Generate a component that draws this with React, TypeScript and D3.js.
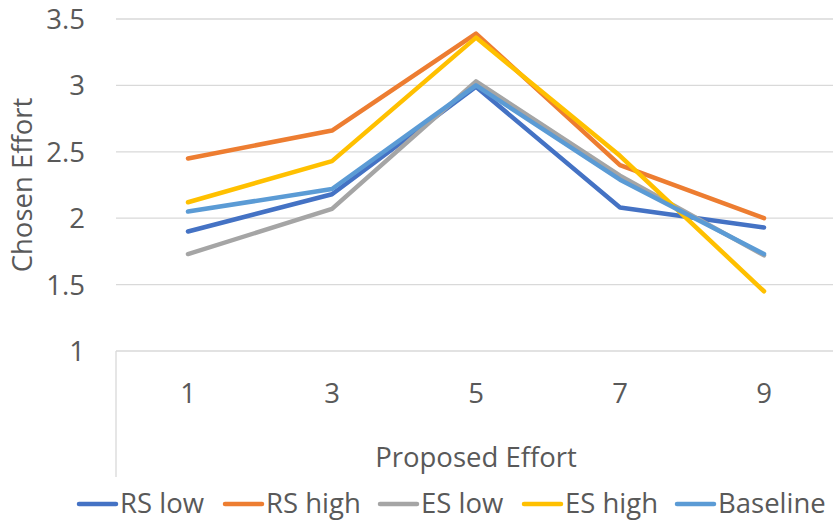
import React from "react";
import * as d3 from "d3";

const categories = ["1", "3", "5", "7", "9"];
const seriesNames = ["RS low", "RS high", "ES low", "ES high", "Baseline"];
const rsLow = [1.9, 2.18, 2.99, 2.08, 1.93];
const rsHigh = [2.45, 2.66, 3.39, 2.4, 2.0];
const esLow = [1.73, 2.07, 3.03, 2.32, 1.72];
const esHigh = [2.12, 2.43, 3.36, 2.47, 1.45];
const baseline = [2.05, 2.22, 3.0, 2.29, 1.73];
const yTicks = [1, 1.5, 2, 2.5, 3, 3.5];
const colors = ["#4472C4", "#ED7D31", "#A5A5A5", "#FFC000", "#5B9BD5"];

const W = 833;
const H = 523;
const FONT = "'Open Sans', Lato, sans-serif";
const TEXT = "#595959";
const FS = 27.5;

export default function App() {
  const series = [rsLow, rsHigh, esLow, esHigh, baseline];
  const x = d3.scaleBand<string>().domain(categories).range([116, 836]);
  const y = d3.scaleLinear().domain([1, 3.5]).range([351, 19]);
  const line = d3
    .line<number>()
    .x((_, i) => (x(categories[i]) as number) + x.bandwidth() / 2)
    .y((d) => y(d));

  const legendX = [79, 225, 380, 524, 677];

  return (
    <svg
      width={W}
      height={H}
      style={{ position: "absolute", left: 0, top: 0, background: "#fff" }}
      fontFamily={FONT}
    >
      {yTicks.slice(1).map((t) => (
        <line key={t} x1={116} x2={W} y1={y(t)} y2={y(t)} stroke="#d9d9d9" strokeWidth={1.3} />
      ))}
      <line x1={116} x2={W} y1={y(1)} y2={y(1)} stroke="#d9d9d9" strokeWidth={1.3} />
      <line x1={116} x2={116} y1={y(1)} y2={477} stroke="#d9d9d9" strokeWidth={1.3} />
      {yTicks.map((t) => (
        <text key={t} x={85} y={y(t) + 10} textAnchor="end" fontSize={FS} fill={TEXT}>
          {String(t)}
        </text>
      ))}
      {categories.map((c) => (
        <text
          key={c}
          x={(x(c) as number) + x.bandwidth() / 2}
          y={403}
          textAnchor="middle"
          fontSize={FS}
          fill={TEXT}
        >
          {c}
        </text>
      ))}
      <text
        transform={`translate(32,${y(2.25)}) rotate(-90)`}
        textAnchor="middle"
        fontSize={FS}
        fill={TEXT}
      >
        Chosen Effort
      </text>
      <text x={476} y={467} textAnchor="middle" fontSize={FS} fill={TEXT}>
        Proposed Effort
      </text>
      {series.map((s, i) => (
        <path
          key={seriesNames[i]}
          d={line(s) || ""}
          fill="none"
          stroke={colors[i]}
          strokeWidth={4.5}
          strokeLinecap="round"
          strokeLinejoin="round"
        />
      ))}
      {seriesNames.map((n, i) => (
        <g key={n}>
          <line
            x1={legendX[i]}
            x2={legendX[i] + 37}
            y1={504}
            y2={504}
            stroke={colors[i]}
            strokeWidth={4.5}
            strokeLinecap="round"
          />
          <text x={legendX[i] + 41} y={513} fontSize={FS} fill={TEXT}>
            {n}
          </text>
        </g>
      ))}
    </svg>
  );
}
